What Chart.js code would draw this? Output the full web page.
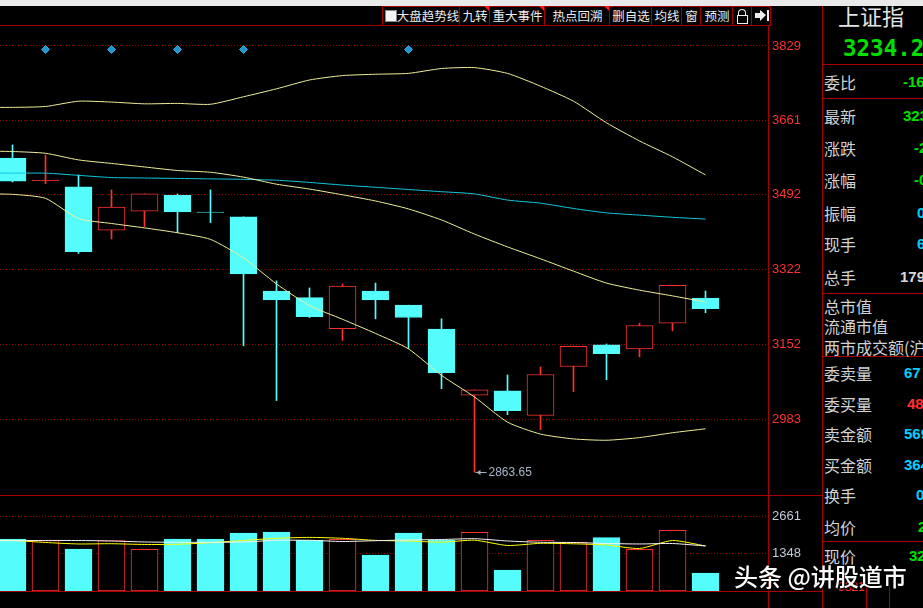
<!DOCTYPE html>
<html>
<head>
<meta charset="utf-8">
<script src="https://cdn.jsdelivr.net/npm/chart.js@4.4.0/dist/chart.umd.min.js"></script>
<style>
  html, body { margin: 0; padding: 0; background: #000; width: 923px; height: 608px; overflow: hidden; }
  body { position: relative; font-family: "Noto Sans CJK SC", sans-serif; }
  .a { position: absolute; }
  .hl { position: absolute; height: 1px; background: #a80000; }
  .vl { position: absolute; width: 1px; background: #a80000; }
  .tb { position: absolute; top: 6px; height: 19px; border-left: 1px solid #a80000; color: #ececec;
        font-size: 12.5px; line-height: 19px; text-align: center; white-space: nowrap; }
  .tri { position: absolute; top: 0; right: 0; width: 0; height: 0; border-top: 6px solid #ff1a1a; border-left: 6px solid transparent; }
  .lab { position: absolute; left: 824px; color: #d2d2d2; font-size: 16px; line-height: 16px; white-space: nowrap; }
  .val { position: absolute; font-family: "Liberation Sans", sans-serif; font-weight: bold; font-size: 15px; line-height: 16px; white-space: nowrap; }
  canvas { position: absolute; left: 0; }
</style>
</head>
<body>
<!-- top strip of the window -->
<div class="a" style="left:0;top:0;width:923px;height:6px;background:#e9e9e9;"></div>

<!-- toolbar -->
<div class="hl" style="left:0;top:25px;width:770px;"></div>
<div class="hl" style="left:382px;top:6px;width:388px;"></div>
<div class="tb" style="left:382px;width:77px;">
  <span class="a" style="left:2px;top:4px;width:10px;height:10px;background:#f4f4f4;border:1px solid #888;"></span>
  <span style="padding-left:13px;">大盘趋势线</span>
</div>
<div class="tb" style="left:459px;width:30px;">九转<span class="tri"></span></div>
<div class="tb" style="left:489px;width:55px;">重大事件<span class="tri"></span></div>
<div class="tb" style="left:544px;width:65px;">热点回溯<span class="tri"></span></div>
<div class="tb" style="left:609px;width:42px;">删自选</div>
<div class="tb" style="left:651px;width:30px;">均线</div>
<div class="tb" style="left:681px;width:19px;">窗</div>
<div class="tb" style="left:700px;width:32px;">预测</div>
<div class="tb" style="left:732px;width:19px;">
  <span class="a" style="left:5px;top:3px;width:6px;height:6px;border:1px solid #eee;border-bottom:none;border-radius:4px 4px 0 0;"></span>
  <span class="a" style="left:4px;top:9px;width:9px;height:7px;border:1px solid #eee;"></span>
</div>
<div class="tb" style="left:751px;width:19px;">
  <span class="a" style="left:3px;top:7px;width:5px;height:5px;background:#eee;"></span>
  <span class="a" style="left:8px;top:4px;width:0;height:0;border-top:5px solid transparent;border-bottom:6px solid transparent;border-left:6px solid #eee;"></span>
  <span class="a" style="left:15px;top:4px;width:2px;height:11px;background:#eee;"></span>
</div>
<div class="vl" style="left:770px;top:6px;height:20px;"></div>

<!-- chart canvases -->
<canvas id="priceCanvas" width="822" height="469" style="top:26px;"></canvas>
<canvas id="volCanvas" width="822" height="95" style="top:496px;"></canvas>

<!-- panel frame lines -->
<div class="vl" style="left:768px;top:25px;height:583px;"></div>
<div class="vl" style="left:822px;top:6px;height:602px;"></div>
<div class="hl" style="left:0;top:495px;width:822px;"></div>
<div class="hl" style="left:0;top:591px;width:822px;"></div>
<div class="hl" style="left:822px;top:64px;width:101px;"></div>
<div class="hl" style="left:822px;top:98px;width:101px;"></div>
<div class="hl" style="left:822px;top:293px;width:101px;"></div>
<div class="hl" style="left:822px;top:356px;width:101px;"></div>
<div class="hl" style="left:822px;top:541px;width:101px;"></div>
<div class="vl" style="left:866px;top:586px;height:22px;"></div>
<div class="vl" style="left:889px;top:586px;height:22px;"></div>

<!-- right info panel -->
<div class="a" style="left:838px;top:2px;color:#e4e4e4;font-size:22px;line-height:26px;white-space:nowrap;">上证指</div>
<div class="a" style="left:843px;top:36px;color:#00e000;font-family:'DejaVu Sans Mono',monospace;font-weight:bold;font-size:22.5px;line-height:24px;white-space:nowrap;">3234.29</div>

<div class="lab" style="top:74px;">委比</div>     <div class="val" style="left:903px;top:74px;color:#00e000;">-16</div>
<div class="lab" style="top:108px;">最新</div>    <div class="val" style="left:903px;top:108px;color:#00e000;">323</div>
<div class="lab" style="top:140px;">涨跌</div>    <div class="val" style="left:914px;top:140px;color:#00e000;">-2</div>
<div class="lab" style="top:172px;">涨幅</div>    <div class="val" style="left:914px;top:172px;color:#00e000;">-0</div>
<div class="lab" style="top:205px;">振幅</div>    <div class="val" style="left:917px;top:205px;color:#00d0ff;">0</div>
<div class="lab" style="top:236px;">现手</div>    <div class="val" style="left:917px;top:236px;color:#00d0ff;">6</div>
<div class="lab" style="top:269px;">总手</div>    <div class="val" style="left:900px;top:269px;color:#d8d8d8;">179</div>
<div class="lab" style="top:298px;">总市值</div>
<div class="lab" style="top:318px;">流通市值</div>
<div class="lab" style="top:339px;">两市成交额(沪</div>
<div class="lab" style="top:365px;">委卖量</div>  <div class="val" style="left:904px;top:365px;color:#00d0ff;">67</div>
<div class="lab" style="top:396px;">委买量</div>  <div class="val" style="left:907px;top:396px;color:#ff3030;">48</div>
<div class="lab" style="top:426px;">卖金额</div>  <div class="val" style="left:904px;top:426px;color:#00d0ff;">569</div>
<div class="lab" style="top:457px;">买金额</div>  <div class="val" style="left:904px;top:457px;color:#00d0ff;">364</div>
<div class="lab" style="top:487px;">换手</div>    <div class="val" style="left:916px;top:487px;color:#00d0ff;">0</div>
<div class="lab" style="top:519px;">均价</div>    <div class="val" style="left:918px;top:519px;color:#00e000;">2</div>
<div class="lab" style="top:548px;">现价</div>    <div class="val" style="left:909px;top:548px;color:#00e000;">32</div>
<div class="a" style="left:838px;top:580px;color:#ff3030;font-family:'Liberation Sans',sans-serif;font-size:12px;">3321</div>

<!-- watermark -->
<div class="a" style="left:734px;top:561px;color:#fafafa;font-size:24px;line-height:30px;font-weight:500;white-space:nowrap;text-shadow:0 0 2px #000,1px 1px 2px #000;">头条 @讲股道市</div>

<script>
// day index 0 = leftmost candle (partly cut off), 21 = latest
const candleOpen  = [3575, 3524, 3510, 3412, 3455, 3491, 3453, 3442, 3274, 3259, 3189, 3274, 3242, 3188, 3038, 3048, 2992, 3103, 3152, 3143, 3201, 3258];
const candleHigh  = [3605, 3582, 3537, 3503, 3494, 3494, 3503, 3442, 3297, 3281, 3290, 3292, 3242, 3211, 3050, 3084, 3102, 3149, 3154, 3201, 3287, 3274];
const candleLow   = [3521, 3517, 3359, 3392, 3420, 3406, 3429, 3150, 3026, 3214, 3162, 3211, 3144, 3053, 2863.65, 2994, 2960, 3046, 3073, 3125, 3184, 3225];
const candleClose = [3523, 3525, 3363, 3464, 3494, 3453, 3452, 3313, 3254, 3216, 3285, 3254, 3214, 3089, 3050, 3003, 3085, 3149, 3132, 3196, 3287, 3234.29];
const volume      = [1846, 1786, 1491, 1786, 1480, 1846, 1846, 2059, 2095, 1800, 1835, 1278, 2059, 1811, 2084, 746, 1800, 1729, 1892, 1480, 2155, 639];

// indicator lines: first value is the day before the window (x = -1)
const upperBand = [3690, 3690, 3692, 3704, 3702, 3698, 3699, 3697, 3714, 3732, 3752, 3762, 3765, 3767, 3778, 3780, 3767, 3738, 3704, 3655, 3614, 3578, 3537];
const midLine   = [3591, 3590, 3586, 3571, 3563, 3555, 3547, 3543, 3532, 3516, 3505, 3492, 3478, 3460, 3435, 3403, 3374, 3347, 3319, 3292, 3276, 3263, 3249];
const cyanLine  = [3541, 3541, 3541, 3536, 3531, 3530, 3529, 3528, 3527, 3525, 3520, 3514, 3509, 3504, 3499, 3494, 3480, 3473, 3461, 3451, 3446, 3441, 3437];
const lowerLine = [3494, 3493, 3484, 3438, 3427, 3417, 3406, 3391, 3349, 3290, 3241, 3210, 3178, 3143, 3083, 3034, 2977, 2950, 2939, 2936, 2942, 2953, 2962];
const volWhite  = [1786, 1786, 1793, 1793, 1775, 1740, 1729, 1729, 1740, 1800, 1800, 1757, 1786, 1811, 1828, 1857, 1775, 1729, 1722, 1686, 1669, 1686, 1598];
const volYellow = [1793, 1793, 1722, 1669, 1679, 1651, 1658, 1715, 1793, 1871, 1903, 1871, 1796, 1775, 1732, 1803, 1615, 1693, 1676, 1633, 1509, 1793, 1598];

// signal diamonds along the top
const signalDays = [1, 3, 5, 7, 12];
const signalLevel = 3821;

// axis tick labels
const priceTicks = [2983, 3152, 3322, 3492, 3661, 3829];
const volTicks = [1348, 2661];

const RED = '#ff3030';
const CYAN = '#55fcfc';
const GRID = '#9a0000';

const days = candleOpen.map((_, i) => i);
const lineDays = upperBand.map((_, i) => i - 1);
const isUp = i => candleClose[i] >= candleOpen[i];
const xMin = -12.5 / 33, xMax = (768 - 12.5) / 33;

function rightAxis(min, max, ticks, labelColor) {
  return {
    position: 'right', min: min, max: max,
    afterBuildTicks: ax => { ax.ticks = ticks.map(v => ({ value: v })); },
    afterFit: ax => { ax.width = 54; ax.paddingTop = 0; ax.paddingBottom = 0; },
    grid: { color: GRID, lineWidth: 1, tickLength: 3, tickColor: GRID, tickBorderDash: [1, 2] },
    border: { display: false, dash: [1, 2] },
    ticks: { color: labelColor, padding: 1, font: { family: 'Liberation Sans', size: 13 }, callback: v => String(v) }
  };
}

const xAxis = { type: 'linear', min: xMin, max: xMax, offset: false, display: false, grid: { offset: false } };

const lineDs = (data, color, xs) => ({
  type: 'line', data: xs.map((x, k) => ({ x: x, y: data[k] })),
  borderColor: color, borderWidth: 1, pointRadius: 0, tension: 0.2, order: 0
});

const lowNote = {
  id: 'lowNote',
  afterDatasetsDraw(chart) {
    const low = Math.min(...candleLow);
    const i = candleLow.indexOf(low);
    const x = Math.round(chart.scales.x.getPixelForValue(i)) + 0.5;
    const y = Math.round(chart.scales.y.getPixelForValue(low)) + 0.5;
    const ctx = chart.ctx;
    ctx.save();
    ctx.strokeStyle = '#a8b4c8';
    ctx.fillStyle = '#a8b4c8';
    ctx.beginPath(); ctx.moveTo(x, y); ctx.lineTo(x + 11, y); ctx.stroke();
    ctx.beginPath(); ctx.moveTo(x + 1, y); ctx.lineTo(x + 5, y - 2.5); ctx.lineTo(x + 5, y + 2.5); ctx.fill();
    ctx.font = '12px "Liberation Sans"';
    ctx.textBaseline = 'middle';
    ctx.fillText(low.toFixed(2), x + 13, y);
    ctx.restore();
  }
};

new Chart(document.getElementById('priceCanvas'), {
  type: 'bar',
  data: {
    datasets: [
      lineDs(upperBand, '#eeee98', lineDays),
      lineDs(midLine, '#eeee98', lineDays),
      lineDs(cyanLine, '#10c8e0', lineDays),
      lineDs(lowerLine, '#eeee98', lineDays),
      {
        type: 'line', showLine: false, order: 0,
        data: signalDays.map(d => ({ x: d, y: signalLevel })),
        pointStyle: 'rectRot', pointRadius: 4, backgroundColor: '#1f96cc', borderColor: '#3aa8d8', borderWidth: 1
      },
      {
        label: 'body', order: 1, grouped: false, barThickness: 27, borderWidth: 1, borderSkipped: false,
        data: days.map(i => ({ x: i, y: [candleOpen[i], candleClose[i]] })),
        borderColor: days.map(i => isUp(i) ? RED : CYAN),
        backgroundColor: days.map(i => isUp(i) ? (Math.abs(candleClose[i] - candleOpen[i]) < 3 ? RED : '#000') : CYAN)
      },
      {
        label: 'wick', order: 2, grouped: false, barThickness: 1, borderWidth: 0,
        data: days.map(i => ({ x: i, y: [candleLow[i], candleHigh[i]] })),
        backgroundColor: days.map(i => isUp(i) ? RED : CYAN)
      }
    ]
  },
  options: {
    responsive: false, animation: false,
    layout: { padding: 0, autoPadding: false },
    plugins: { legend: { display: false }, tooltip: { enabled: false } },
    scales: { x: xAxis, y: rightAxis(2812, 3874.3, priceTicks, RED) }
  },
  plugins: [lowNote]
});

new Chart(document.getElementById('volCanvas'), {
  type: 'bar',
  data: {
    datasets: [
      lineDs(volWhite, '#f4f4f4', lineDays),
      lineDs(volYellow, '#ffff00', lineDays),
      {
        label: 'volume', order: 1, grouped: false, barThickness: 27, borderWidth: 1, borderSkipped: false,
        data: days.map(i => ({ x: i, y: volume[i] })),
        borderColor: days.map(i => isUp(i) ? RED : CYAN),
        backgroundColor: days.map(i => isUp(i) ? '#000' : CYAN)
      }
    ]
  },
  options: {
    responsive: false, animation: false,
    layout: { padding: 0, autoPadding: false },
    plugins: { legend: { display: false }, tooltip: { enabled: false } },
    scales: { x: xAxis, y: rightAxis(0, 3372, volTicks, '#c4cad8') }
  }
});
</script>
</body>
</html>
